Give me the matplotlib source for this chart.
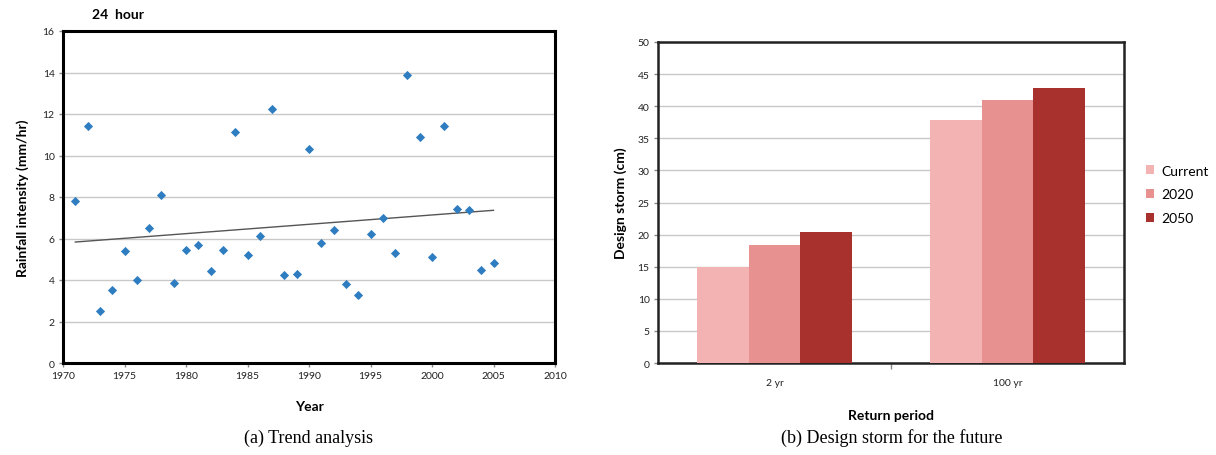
import matplotlib
matplotlib.use("Agg")
import matplotlib.pyplot as plt
import numpy as np

# (a) trend analysis, 24 hour rainfall intensity
years = [1971, 1972, 1973, 1974, 1975, 1976, 1977, 1978, 1979, 1980,
         1981, 1982, 1983, 1984, 1985, 1986, 1987, 1988, 1989, 1990,
         1991, 1992, 1993, 1994, 1995, 1996, 1997, 1998, 1999, 2000,
         2001, 2002, 2003, 2004, 2005]
intensity = [7.8, 11.4, 2.5, 3.5, 5.4, 4.0, 6.5, 8.1, 3.85, 5.45,
             5.7, 4.45, 5.45, 11.15, 5.2, 6.1, 12.25, 4.25, 4.3, 10.3,
             5.8, 6.4, 3.8, 3.3, 6.2, 7.0, 5.3, 13.9, 10.9, 5.1,
             11.4, 7.4, 7.35, 4.5, 4.8]

# (b) design storm
periods = ["2 yr", "100 yr"]
scenarios = ["Current", "2020", "2050"]
storm_current = [15.0, 37.9]
storm_2020 = [18.4, 41.0]
storm_2050 = [20.35, 42.9]
bar_colors = ["#F4B3B3", "#E79291", "#A8312E"]

sans = ["Lato", "DejaVu Sans"]
serif = ["Liberation Serif", "DejaVu Serif"]
plt.rcParams["font.family"] = sans

fig = plt.figure(figsize=(12.16, 4.56), dpi=100)
W, H = 1216, 456

def px_axes(x0, y0, x1, y1):
    return fig.add_axes([x0 / W, 1 - y1 / H, (x1 - x0) / W, (y1 - y0) / H])

# ---- left panel
ax1 = px_axes(63, 32, 555, 364)
ax1.scatter(years, intensity, marker="D", s=22, color="#2F7DC1", zorder=3, linewidths=0)
z = np.polyfit(years, intensity, 1)
p = np.poly1d(z)
xt = np.array([min(years), max(years)])
ax1.plot(xt, p(xt), color="#555555", lw=1.0, zorder=2)
ax1.set_xlim(1970, 2010)
ax1.set_ylim(0, 16)
ax1.set_xticks(range(1970, 2011, 5))
ax1.set_yticks(range(0, 17, 2))
ax1.yaxis.grid(True, color="#C8C8C8", lw=1.0)
ax1.set_axisbelow(True)
for s in ax1.spines.values():
    s.set_linewidth(2.2)
    s.set_color("black")
ax1.tick_params(axis="both", labelsize=7.5, length=3, width=1, color="#888888", pad=3,
                labelcolor="#222222")
ax1.set_xlabel("Year", fontsize=10, fontweight="bold", labelpad=14)
ax1.set_ylabel("Rainfall intensity (mm/hr)", fontsize=10, fontweight="bold", labelpad=10)
fig.text(92 / W, 1 - 15 / H, "24  hour", fontsize=10, fontweight="bold", ha="left", va="center")
fig.text(308 / W, 1 - 438 / H, "(a) Trend analysis", fontsize=13, family=serif,
         ha="center", va="center")

# ---- right panel
ax2 = px_axes(658, 43, 1124, 364)
x = np.arange(len(periods))
bw = 0.223
for i, (name, vals) in enumerate(zip(scenarios, [storm_current, storm_2020, storm_2050])):
    ax2.bar(x + (i - 1) * bw, vals, width=bw, color=bar_colors[i], label=name, zorder=3)
ax2.set_xlim(-0.5, 1.5)
ax2.set_ylim(0, 50)
ax2.set_yticks(range(0, 51, 5))
ax2.set_xticks(x)
ax2.set_xticklabels(periods)
ax2.set_xticks([0.5], minor=True)
ax2.tick_params(axis="x", which="major", length=0, labelsize=7.5, pad=11, labelcolor="#222222")
ax2.tick_params(axis="x", which="minor", length=4, width=1, color="#888888")
ax2.tick_params(axis="y", labelsize=7.5, length=3, width=1, color="#888888", pad=3,
                labelcolor="#222222")
ax2.yaxis.grid(True, color="#C8C8C8", lw=1.0)
ax2.set_axisbelow(True)
for s in ax2.spines.values():
    s.set_linewidth(1.8)
    s.set_color("#222222")
ax2.set_xlabel("Return period", fontsize=10, fontweight="bold", labelpad=16)
ax2.set_ylabel("Design storm (cm)", fontsize=10, fontweight="bold", labelpad=8)
ax2.legend(loc="center left", bbox_to_anchor=(1.02, 0.525), frameon=False, fontsize=10,
           handlelength=0.6, handleheight=0.6, handletextpad=0.5, labelspacing=0.85)
fig.text(892 / W, 1 - 438 / H, "(b) Design storm for the future", fontsize=13, family=serif,
         ha="center", va="center")

fig.savefig("out.png", dpi=100)
